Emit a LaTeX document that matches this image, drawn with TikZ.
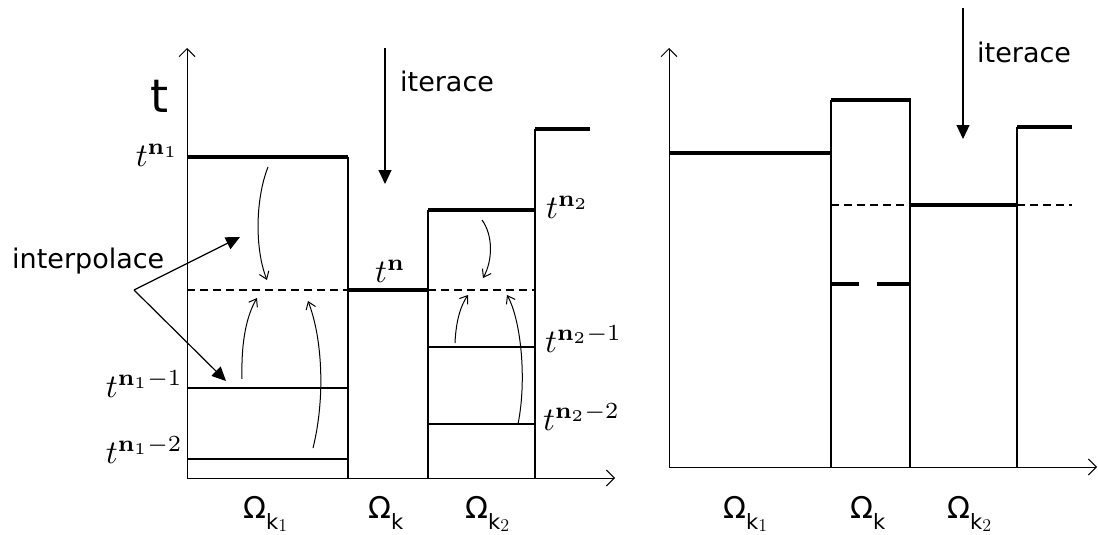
\documentclass[tikz,border=0pt]{standalone}
\usepackage{amsmath}
\usepackage[no-math]{fontspec}
\setmainfont{DejaVu Sans}
\newfontfamily\dvs{DejaVu Sans}
\usetikzlibrary{arrows.meta}
\newcommand{\Om}[1]{{\dvs Ω}\raisebox{-11pt}{\fontsize{21}{21}\selectfont\dvs k\raisebox{-2pt}{\scalebox{1.25}{$\scriptstyle #1$}}}}
\newcommand{\Omk}{{\dvs Ω}\raisebox{-11pt}{\fontsize{21}{21}\selectfont\dvs k}}
\newcommand{\ML}[1]{\scalebox{3.3}{$#1$}}
\tikzset{
  axisline/.style={line width=1pt,-{Straight Barb[length=8pt,width=16pt,line width=1pt]}},
  thinline/.style={line width=1.2pt},
  thickline/.style={line width=4pt},
  dashline/.style={line width=1.1pt,dash pattern=on 8pt off 5pt},
  curvearrow/.style={line width=1pt,-{Straight Barb[length=7pt,width=10pt,line width=1pt]}},
  iterarrow/.style={line width=1.2pt,-{Triangle[length=14pt,width=13pt]}},
  interarrow/.style={line width=1.2pt,-{Triangle[length=14pt,width=13pt]}},
  mlabel/.style={inner sep=0pt,font=\normalsize},
  wlabel/.style={inner sep=0pt,font=\fontsize{27}{32}\selectfont},
  omlabel/.style={inner sep=0pt,font=\fontsize{30}{34}\selectfont,anchor=base west},
}
\begin{document}
\begin{tikzpicture}[x=1pt,y=-1pt]
\useasboundingbox (0,0) rectangle (1098,535);
% ---------- left panel ----------
\coordinate (LO) at (187,478);
\draw[axisline] (LO) -- (187,48);
\draw[axisline] (LO) -- (615,478);
\draw[thinline] (348,478) -- (348,157);
\draw[thinline] (428,478) -- (428,210);
\draw[thinline] (535,478) -- (535,129);
\draw[thickline] (187,157) -- (348,157);
\draw[thickline] (348,290) -- (428,290);
\draw[thickline] (428,210) -- (535,210);
\draw[thickline] (535,129) -- (590,129);
\draw[dashline] (187,290) -- (348,290);
\draw[dashline] (428,290) -- (535,290);
\draw[thinline] (187,388) -- (348,388);
\draw[thinline] (187,459) -- (348,459);
\draw[thinline] (428,347) -- (535,347);
\draw[thinline] (428,424) -- (535,424);
% curved arrows
\draw[curvearrow] (268,167) .. controls (255,200) and (255,250) .. (267,280);
\draw[curvearrow] (242,379) .. controls (241,340) and (247,315) .. (257,298);
\draw[curvearrow] (313,448) .. controls (325,400) and (323,340) .. (308,301);
\draw[curvearrow] (482,220) .. controls (493,235) and (493,260) .. (483,278);
\draw[curvearrow] (455,343) .. controls (456,320) and (461,305) .. (468,295);
\draw[curvearrow] (518,424) .. controls (527,380) and (521,320) .. (507,295);
% iterace
\coordinate (it1s) at (385,48);
\coordinate (it1e) at (385,184);
\draw[iterarrow] (it1s) -- (it1e);
\node[wlabel,anchor=base west] (it1) at (400,92) {iterace};
% interpolace
\node[wlabel,anchor=base west] (ip) at (12,268) {interpolace};
\coordinate (ipc) at (134,290);
\coordinate (ipa) at (240,237);
\coordinate (ipb) at (226,381);
\draw[interarrow] (ipc) -- (ipa);
\draw[interarrow] (ipc) -- (ipb);
% labels
\node[inner sep=0pt,anchor=base,font=\fontsize{46}{50}\selectfont] (tl) at (160,112) {t};
\node[mlabel,anchor=base east] (l1) at (179,166) {\ML{t^{\mathbf{n}_1}}};
\node[mlabel,anchor=base east] (l2) at (183,397) {\ML{t^{\mathbf{n}_1-1}}};
\node[mlabel,anchor=base east] (l3) at (183,463) {\ML{t^{\mathbf{n}_1-2}}};
\node[mlabel,anchor=base west] (l4) at (375,282) {\ML{t^{\mathbf{n}}}};
\node[mlabel,anchor=base west] (l5) at (546,218) {\ML{t^{\mathbf{n}_2}}};
\node[mlabel,anchor=base west] (l6) at (545,352) {\ML{t^{\mathbf{n}_2-1}}};
\node[mlabel,anchor=base west] (l7) at (543,430) {\ML{t^{\mathbf{n}_2-2}}};
\node[omlabel] (o1) at (243,518) {\Om{1}};
\node[omlabel] (o2) at (368,518) {\Omk};
\node[omlabel] (o3) at (465,518) {\Om{2}};
% ---------- right panel ----------
\coordinate (RO) at (669,467);
\draw[axisline] (RO) -- (669,48);
\draw[axisline] (RO) -- (1097,467);
\draw[thinline] (831,467) -- (831,100);
\draw[thinline] (910,467) -- (910,100);
\draw[thinline] (1017,467) -- (1017,127);
\draw[thickline] (669,153) -- (831,153);
\draw[thickline] (831,100) -- (911,100);
\draw[thickline] (910,205) -- (1017,205);
\draw[thickline] (1017,127) -- (1072,127);
\draw[thickline] (831,284) -- (859,284);
\draw[thickline] (877,284) -- (910,284);
\draw[dashline] (831,205) -- (910,205);
\draw[dashline] (1017,205) -- (1072,205);
\coordinate (it2s) at (963,8);
\coordinate (it2e) at (963,139);
\draw[iterarrow] (it2s) -- (it2e);
\node[wlabel,anchor=base west] (it2) at (977,63) {iterace};
\node[omlabel] (o4) at (723,518) {\Om{1}};
\node[omlabel] (o5) at (850,518) {\Omk};
\node[omlabel] (o6) at (947,518) {\Om{2}};
\end{tikzpicture}
\end{document}
